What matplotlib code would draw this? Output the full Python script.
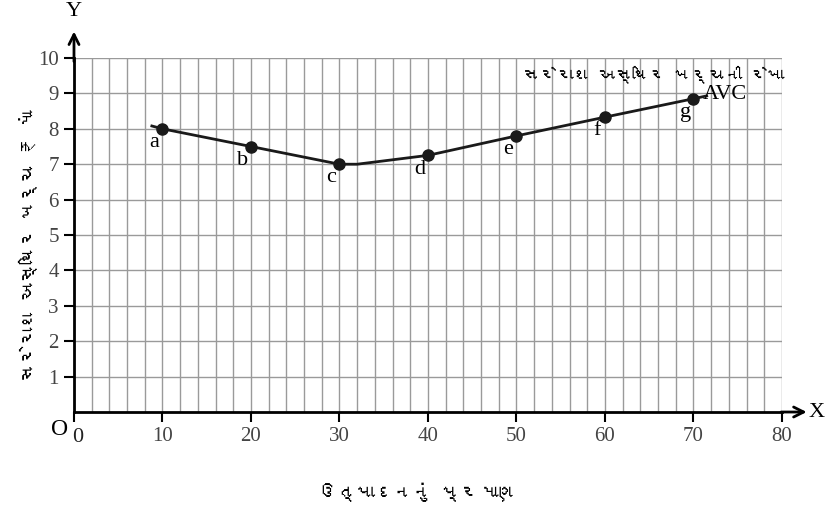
import matplotlib
matplotlib.use("Agg")
from matplotlib import pyplot as plt
from matplotlib import font_manager
from matplotlib.ft2font import FT2Font

# average variable cost schedule
output_qty = [10, 20, 30, 40, 50, 60, 70]
avc = [8.0, 7.5, 7.0, 7.25, 7.8, 8.33, 8.85]
point_names = ["a", "b", "c", "d", "e", "f", "g"]
# curve is drawn a little past the first and last points
curve_x = [8.8, 10, 20, 30, 32, 40, 50, 60, 70, 71.5]
curve_y = [8.08, 8.0, 7.5, 7.0, 7.0, 7.25, 7.8, 8.33, 8.85, 8.93]

x_ticks = [0, 10, 20, 30, 40, 50, 60, 70, 80]
y_ticks = [1, 2, 3, 4, 5, 6, 7, 8, 9, 10]

title_text = "સરેરાશ અસ્થિર ખર્ચની રેખા"
x_label = "ઉત્પાદનનું પ્રમાણ"
y_label = "સરેરાશ અસ્થિર ખર્ચ ₹ માં"


def find_font(ch):
    # look for any installed font that has this glyph
    for f in font_manager.fontManager.ttflist:
        try:
            if ord(ch) in FT2Font(f.fname).get_charmap():
                return f.name
        except Exception:
            pass
    return None


def fit_text(t, length_px):
    # scale font so the text spans roughly length_px
    bb = t.get_window_extent(fig.canvas.get_renderer())
    size = max(bb.width, bb.height)
    t.set_fontsize(t.get_fontsize() * length_px / size)


guj = find_font("સ")
guj_family = [guj, "DejaVu Sans"] if guj else ["DejaVu Sans"]

plt.rcParams["font.family"] = ["Liberation Serif", "DejaVu Serif"]

fig = plt.figure(figsize=(8.37, 5.25), dpi=100)
ax = fig.add_axes([0.0884, 0.2152, 0.8458, 0.6743])

ax.set_xlim(0, 80)
ax.set_ylim(0, 10)
ax.set_xticks(range(0, 81, 2), minor=True)
ax.set_xticks(x_ticks)
ax.set_yticks(y_ticks)
ax.grid(True, which="both", axis="x", color="#9a9a9a", lw=1)
ax.grid(True, which="major", axis="y", color="#9a9a9a", lw=1)
ax.set_axisbelow(True)

for s in ["top", "right"]:
    ax.spines[s].set_visible(False)
for s in ["left", "bottom"]:
    ax.spines[s].set_linewidth(2)

ax.tick_params(which="major", length=7, width=1.5, direction="out",
               labelsize=15, labelcolor="#444444", pad=4)
ax.tick_params(which="minor", length=0)
ax.set_xticklabels([""] + [str(v) for v in x_ticks[1:]])

# line and points
ax.plot(curve_x, curve_y, color="#1a1a1a", lw=2, clip_on=False)
ax.plot(output_qty, avc, "o", color="#1a1a1a", ms=8)

for x, y, name in zip(output_qty, avc, point_names):
    ax.annotate(name, (x, y), xytext=(-6, -3), textcoords="offset points",
                ha="center", va="top", fontsize=16)

ax.annotate("AVC", (output_qty[-1], avc[-1]), xytext=(7, 3),
            textcoords="offset points", ha="left", va="center", fontsize=16)

# axis arrows
ax.annotate("", xy=(0, 10.75), xytext=(0, 9.9), annotation_clip=False,
            arrowprops=dict(arrowstyle="->", lw=2, color="black",
                            mutation_scale=18, shrinkA=0, shrinkB=0))
ax.annotate("", xy=(82.8, 0), xytext=(79.9, 0), annotation_clip=False,
            arrowprops=dict(arrowstyle="->", lw=2, color="black",
                            mutation_scale=18, shrinkA=0, shrinkB=0))
ax.text(0, 11.05, "Y", ha="center", va="bottom", fontsize=16)
ax.text(83.0, 0, "X", ha="left", va="center", fontsize=16)
ax.text(-0.7, -0.2, "O", ha="right", va="top", fontsize=17)
ax.text(0.4, -0.45, "0", ha="center", va="top", fontsize=16, color="#222222")

t_title = ax.text(80.3, 9.55, title_text, ha="right", va="center",
                  fontsize=15, family=guj_family)
t_x = fig.text(418 / 837, 1 - 492 / 525, x_label, ha="center", va="center",
               fontsize=14, family=guj_family)
t_y = fig.text(28 / 837, 1 - 245 / 525, y_label, ha="center", va="center",
               rotation=90, fontsize=14, family=guj_family)
fit_text(t_title, 262)
fit_text(t_x, 200)
fit_text(t_y, 272)

fig.savefig("out.png", dpi=100)
